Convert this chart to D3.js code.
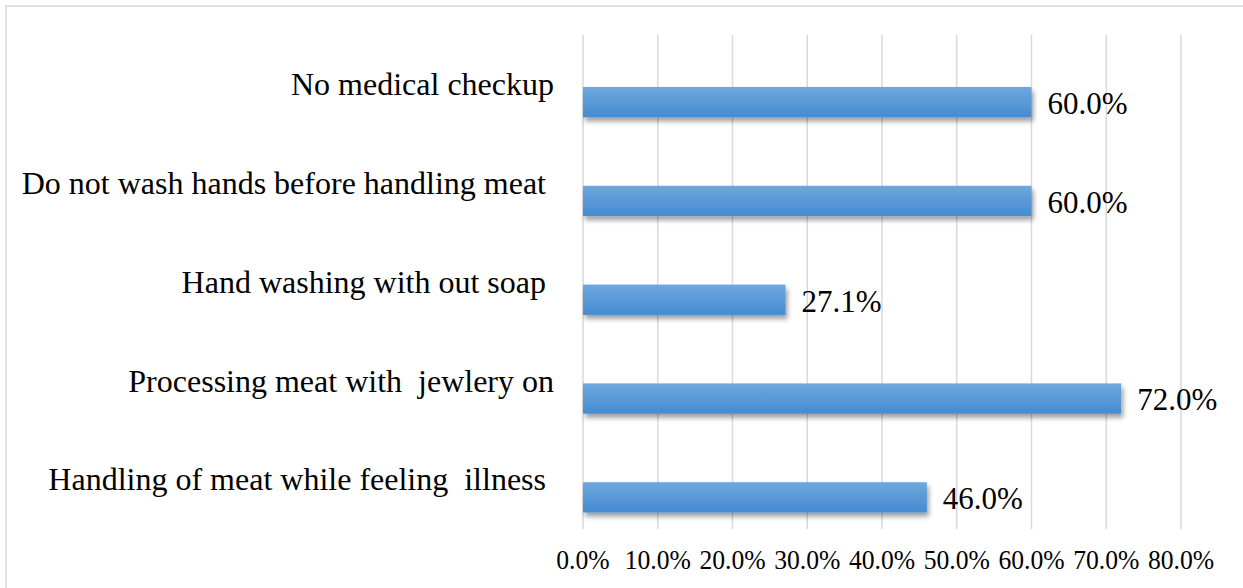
<!DOCTYPE html>
<html>
<head>
<meta charset="utf-8">
<script src="https://cdn.jsdelivr.net/npm/d3@7"></script>
<style>
  html, body { margin: 0; padding: 0; background: #fff; }
  svg { display: block; }
  text { font-family: "Liberation Serif", "Times New Roman", serif; fill: #000; white-space: pre; }
</style>
</head>
<body>
<svg id="chart" width="1243" height="588"></svg>
<script>
// Data
const categories = [
  "No medical checkup",
  "Do not wash hands before handling meat ",
  "Hand washing with out soap ",
  "Processing meat with  jewlery on",
  "Handling of meat while feeling  illness "
];
const values = [0.600, 0.600, 0.271, 0.720, 0.460];
const tickValues = [0, 0.1, 0.2, 0.3, 0.4, 0.5, 0.6, 0.7, 0.8];
const seriesSlots = ["empty", "value"];

const svg = d3.select("#chart");
const W = 1243, H = 588;
const plot = { left: 583, right: 1181, top: 35, bottom: 529 };

// defs: gradient + shadow
const defs = svg.append("defs");
const grad = defs.append("linearGradient").attr("id", "barGrad")
  .attr("x1", 0).attr("y1", 0).attr("x2", 0).attr("y2", 1);
grad.append("stop").attr("offset", "0%").attr("stop-color", "#6ea8df");
grad.append("stop").attr("offset", "100%").attr("stop-color", "#458bd1");
const f = defs.append("filter").attr("id", "shadow")
  .attr("x", "-5%").attr("y", "-30%").attr("width", "115%").attr("height", "180%");
f.append("feDropShadow").attr("dx", 2).attr("dy", 4).attr("stdDeviation", 2.5)
  .attr("flood-color", "#000").attr("flood-opacity", 0.38);

// chart border
svg.append("rect").attr("x", 6).attr("y", 6).attr("width", W).attr("height", H)
  .attr("fill", "none").attr("stroke", "#d9d9d9").attr("stroke-width", 1.5);

// scales
const x = d3.scaleLinear().domain([0, 0.8]).range([plot.left, plot.right]);
const y = d3.scaleBand().domain(categories).range([plot.top, plot.bottom]);
const y1 = d3.scaleBand().domain(seriesSlots).range([0, y.bandwidth()])
  .paddingInner(0.146).paddingOuter(0.465);

// gridlines
svg.append("g").selectAll("line").data(tickValues).join("line")
  .attr("x1", d => x(d)).attr("x2", d => x(d))
  .attr("y1", plot.top).attr("y2", plot.bottom)
  .attr("stroke", "#d9d9d9").attr("stroke-width", 1.5);

// x tick labels
const fmtTick = d3.format(".1%");
svg.append("g").selectAll("text").data(tickValues).join("text")
  .attr("transform", d => `translate(${x(d)},569) scale(0.95,1)`)
  .attr("text-anchor", "middle")
  .style("font-size", "27px")
  .text(d => fmtTick(d));

// bars
const data = categories.map((c, i) => ({ c, v: values[i] }));
svg.append("g").selectAll("rect").data(data).join("rect")
  .attr("x", x(0))
  .attr("y", d => y(d.c) + y1("value"))
  .attr("width", d => x(d.v) - x(0))
  .attr("height", y1.bandwidth())
  .attr("fill", "url(#barGrad)")
  .attr("filter", "url(#shadow)");

// value labels
const fmtVal = d3.format(".1%");
svg.append("g").selectAll("text").data(data).join("text")
  .attr("x", d => x(d.v) + 16)
  .attr("y", d => y(d.c) + y1("value") + y1.bandwidth() / 2)
  .attr("dy", "0.38em")
  .style("font-size", "31px")
  .text(d => fmtVal(d.v));

// category labels
svg.append("g").selectAll("text").data(categories).join("text")
  .attr("x", 554)
  .attr("y", d => y(d) + y.bandwidth() / 2)
  .attr("dy", "0.34em")
  .attr("text-anchor", "end")
  .style("font-size", "32px")
  .text(d => d);
</script>
</body>
</html>
